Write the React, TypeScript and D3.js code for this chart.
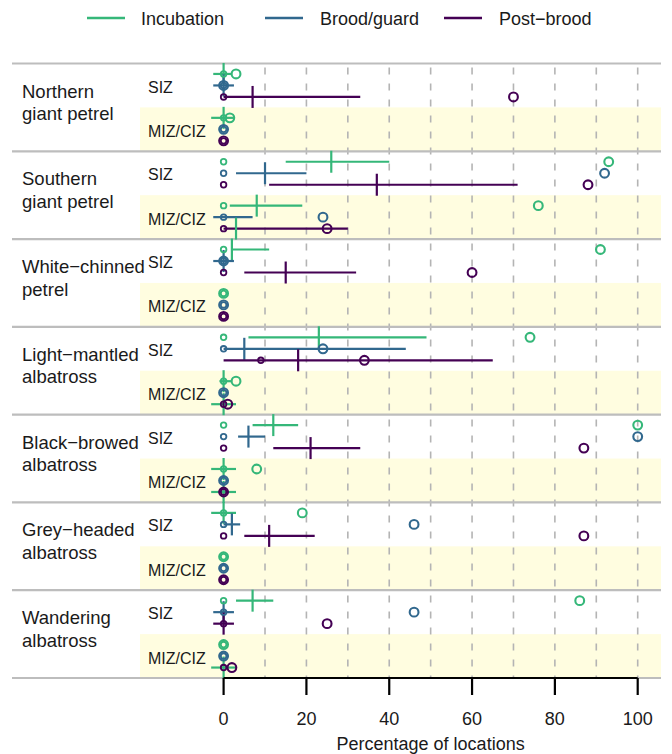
import React from "react";
import * as d3 from "d3";

const species = [
  "Northern giant petrel",
  "Southern giant petrel",
  "White-chinned petrel",
  "Light-mantled albatross",
  "Black-browed albatross",
  "Grey-headed albatross",
  "Wandering albatross",
];
const speciesLabelLines = [
  ["Northern", "giant petrel"],
  ["Southern", "giant petrel"],
  ["White−chinned", "petrel"],
  ["Light−mantled", "albatross"],
  ["Black−browed", "albatross"],
  ["Grey−headed", "albatross"],
  ["Wandering", "albatross"],
];
const zones = ["SIZ", "MIZ/CIZ"];
const stages = ["Incubation", "Brood/guard", "Post−brood"];
const stageColors = ["#35b779", "#31688e", "#440154"];
const xTicks = [0, 20, 40, 60, 80, 100];
const gridValues = [10, 20, 30, 40, 50, 60, 70, 80, 90, 100];

// per species: [SIZ inc, SIZ brood, SIZ post, MIZ inc, MIZ brood, MIZ post]
const minValues = [
  [0, 0, 0, 0, 0, 0],
  [0, 0, 0, 0, 0, 0],
  [0, 0, 0, 0, 0, 0],
  [0, 0, 9, 0, 0, 0],
  [0, 0, 0, 0, 0, 0],
  [0, 0, 0, 0, 0, 0],
  [0, 0, 0, 0, 0, 0],
];
const maxValues = [
  [3, 0, 70, 1.5, 0, 0],
  [93, 92, 88, 76, 24, 25],
  [91, 0, 60, 0, 0, 0],
  [74, 24, 34, 3, 0, 1],
  [100, 100, 87, 8, 0, 0],
  [19, 46, 87, 0, 0, 0],
  [86, 46, 25, 0, 0, 2],
];

// [species index, zone index, row stage index, colour stage index, lower, mean, upper]
const intervals: [number, number, number, number, number, number | null, number][] = [
  [0, 0, 0, 0, -2.5, 0, 2],
  [0, 0, 1, 1, -2.5, 0, 2.5],
  [0, 0, 2, 2, 0, 7, 33],
  [0, 1, 0, 0, -3, 0, 2.5],

  [1, 0, 0, 0, 15, 26, 40],
  [1, 0, 1, 1, 3, 10, 20],
  [1, 0, 2, 2, 11, 37, 71],
  [1, 1, 0, 0, 1.5, 8, 19],
  [1, 1, 1, 1, -2.5, null, 7],
  [1, 1, 2, 2, 0, null, 30],
  [1, 1, 2, 0, 3, 3, 3],

  [2, 0, 0, 0, 2, 2, 11],
  [2, 0, 1, 1, -2.5, 0, 2.5],
  [2, 0, 2, 2, 5, 15, 32],

  [3, 0, 0, 0, 6, 23, 49],
  [3, 0, 1, 1, 0, 5, 44],
  [3, 0, 2, 2, 0, 18, 65],
  [3, 1, 0, 0, -1, 0, 2],
  [3, 1, 2, 0, -3, 0, 3],

  [4, 0, 0, 0, 7, 12, 18],
  [4, 0, 1, 1, 3.5, 6, 10],
  [4, 0, 2, 2, 12, 21, 33],
  [4, 1, 0, 0, -3, 0, 3],
  [4, 1, 2, 0, -3, 0, 3],

  [5, 0, 0, 0, -3, 0, 3],
  [5, 0, 1, 1, 0, 2, 4],
  [5, 0, 2, 2, 5, 11, 22],

  [6, 0, 0, 0, 3, 7, 12],
  [6, 0, 1, 1, -2.5, 0, 2.5],
  [6, 0, 2, 2, -2.5, 0, 2.5],
  [6, 1, 2, 0, -3, 0, 3],
];

const W = 672;
const H = 754;
const FONT = "'Liberation Sans', Arial, Helvetica, sans-serif";
const TEXT = "#1a1a1a";

export default function App() {
  const x = d3.scaleLinear().domain([0, 100]).range([223.6, 637.7]);
  const panel = d3.scaleBand<string>().domain(species).range([63.5, 678]);
  const zoneBand = d3.scaleBand<string>().domain(zones).range([0, panel.bandwidth()]);
  const stageOff = d3.scalePoint<string>().domain(stages).range([-11.5, 11.5]);
  const rowY = (s: number, z: number, st: number) =>
    (panel(species[s]) as number) +
    (zoneBand(zones[z]) as number) +
    zoneBand.bandwidth() / 2 +
    (stageOff(stages[st]) as number);

  const plotTop = 63.5;
  const plotBottom = 678;
  const left = 12;
  const right = 661;
  const yellowLeft = 140;

  const circles: { s: number; z: number; st: number; v: number; big: boolean }[] = [];
  species.forEach((_, s) => {
    for (let k = 0; k < 6; k++) {
      const z = Math.floor(k / 3);
      const st = k % 3;
      circles.push({ s, z, st, v: minValues[s][k], big: false });
      circles.push({ s, z, st, v: maxValues[s][k], big: true });
    }
  });

  const legendItems = [
    { x0: 87, tx: 141 },
    { x0: 265, tx: 320 },
    { x0: 444, tx: 499 },
  ];

  return (
    <svg width={W} height={H} style={{ display: "block", position: "absolute", left: 0, top: 0 }} fontFamily={FONT}>
      <rect x={0} y={0} width={W} height={H} fill="#ffffff" />
      {species.map((s) => (
        <rect
          key={"bg" + s}
          x={yellowLeft}
          y={(panel(s) as number) + (zoneBand("MIZ/CIZ") as number)}
          width={right - yellowLeft}
          height={zoneBand.bandwidth()}
          fill="#fffde0"
        />
      ))}
      {gridValues.map((g) => (
        <line
          key={"g" + g}
          x1={x(g)}
          x2={x(g)}
          y1={plotTop}
          y2={plotBottom}
          stroke="#b4b4b4"
          strokeWidth={1.6}
          strokeDasharray="7 9"
          strokeDashoffset={-4}
        />
      ))}
      {species.map((s) => (
        <line key={"sep" + s} x1={left} x2={right} y1={panel(s) as number} y2={panel(s) as number} stroke="#bdbdbd" strokeWidth={2.2} />
      ))}
      <line x1={left} x2={right} y1={plotBottom} y2={plotBottom} stroke="#bdbdbd" strokeWidth={2.2} />

      {species.map((s, i) => {
        const top = panel(s) as number;
        return (
          <g key={"lab" + s}>
            <text x={22} y={top + 34} fontSize={18.5} fill={TEXT}>{speciesLabelLines[i][0]}</text>
            <text x={22} y={top + 56.5} fontSize={18.5} fill={TEXT}>{speciesLabelLines[i][1]}</text>
            <text x={148} y={top + 29} fontSize={16} fill={TEXT}>{zones[0]}</text>
            <text x={148} y={top + 73.3} fontSize={16} fill={TEXT}>{zones[1]}</text>
          </g>
        );
      })}

      {intervals.map(([s, z, row, col, lo, mean, hi], i) => {
        const y = rowY(s, z, row);
        const c = stageColors[col];
        return (
          <g key={"iv" + i}>
            {hi > lo && <line x1={x(lo)} x2={x(hi)} y1={y} y2={y} stroke={c} strokeWidth={2.2} />}
            {mean !== null && <line x1={x(mean)} x2={x(mean)} y1={y - 11} y2={y + 11} stroke={c} strokeWidth={2.2} />}
          </g>
        );
      })}

      {circles.map((p, i) => (
        <circle
          key={"c" + i}
          cx={x(p.v)}
          cy={rowY(p.s, p.z, p.st)}
          r={p.big ? 4.4 : 2.8}
          fill="none"
          stroke={stageColors[p.st]}
          strokeWidth={p.big ? 2.1 : 1.8}
        />
      ))}

      <line x1={x(0)} x2={x(100)} y1={plotBottom} y2={plotBottom} stroke="#000" strokeWidth={2.2} />
      {xTicks.map((t) => (
        <g key={"t" + t}>
          <line x1={x(t)} x2={x(t)} y1={plotBottom} y2={plotBottom + 17} stroke="#000" strokeWidth={2.2} />
          <text x={x(t)} y={725} fontSize={18} textAnchor="middle" fill={TEXT}>{t}</text>
        </g>
      ))}
      <text x={430.6} y={749.5} fontSize={18} textAnchor="middle" fill={TEXT}>Percentage of locations</text>

      {legendItems.map((l, i) => (
        <g key={"lg" + i}>
          <line x1={l.x0} x2={l.x0 + 38} y1={18} y2={18} stroke={stageColors[i]} strokeWidth={2.5} />
          <text x={l.tx} y={24.5} fontSize={18} fill={TEXT}>{stages[i]}</text>
        </g>
      ))}
    </svg>
  );
}
